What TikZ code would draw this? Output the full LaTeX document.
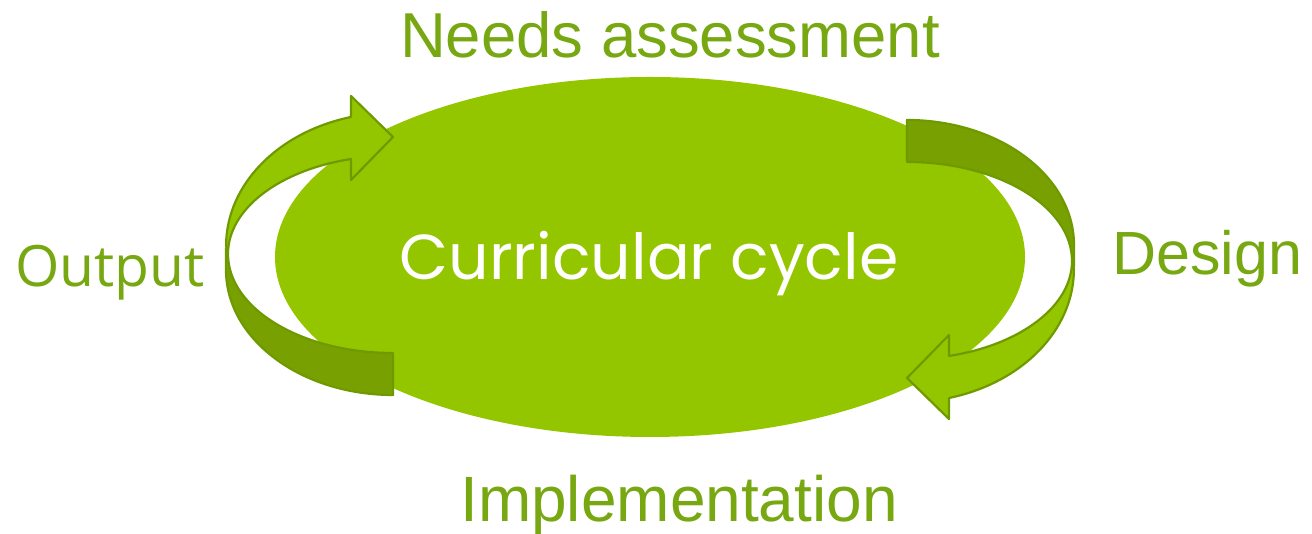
\documentclass[tikz,border=0pt]{standalone}
\usepackage{fontspec}
\setmainfont{Liberation Sans}
\newfontfamily\outfont{Open Sans}
\newfontfamily\cycfont{Poppins}
\definecolor{txtgreen}{HTML}{77A812}
\definecolor{ellfill}{HTML}{94C600}
\definecolor{darkarr}{HTML}{78A000}
\definecolor{arrline}{HTML}{6E9A00}
\tikzset{
  lightpart/.style={fill=ellfill,draw=arrline,line width=2.2pt,line join=round},
  darkpart/.style={fill=darkarr,draw=arrline,line width=2.2pt,line join=round},
  lbl/.style={inner sep=0pt,text=txtgreen,anchor=base},
}
\newcommand\myarrowshape{%
  \path[darkpart] (228,280) arc[start angle=180,end angle=270,x radius=165,y radius=99]
    -- (393,139) arc[start angle=270,end angle=180,x radius=167,y radius=125]
    -- (226,286) -- cycle;
  \path[lightpart] (351,417) arc[start angle=104.6,end angle=180,x radius=167,y radius=133]
    -- (228,280) arc[start angle=180,end angle=104.75,x radius=165,y radius=98.2]
    -- (351,354) -- (393,397) -- (351,438) -- cycle;
}
\begin{document}
\begin{tikzpicture}[x=1pt,y=1pt]
\useasboundingbox (0,0) rectangle (1312,534);
\fill[ellfill] (650,277) ellipse[x radius=375,y radius=180];
\myarrowshape
\begin{scope}[rotate around={180:(650,276.5)}]
\myarrowshape
\end{scope}
\node[lbl,text=white,font=\cycfont\fontsize{63.5}{70}\selectfont] (cyc) at (649,254) {Curricular cycle};
\node[lbl,font=\fontsize{63.5}{70}\selectfont] (needs) at (670,476) {Needs assessment};
\node[lbl,font=\fontsize{64}{70}\selectfont] (impl) at (679,12) {Implementation};
\node[lbl,anchor=base west,font=\outfont\fontsize{57}{65}\selectfont] (out) at (15,247) {Output};
\node[lbl,anchor=base west,font=\fontsize{61}{65}\selectfont] (des) at (1112,259) {Design};
\end{tikzpicture}
\end{document}
